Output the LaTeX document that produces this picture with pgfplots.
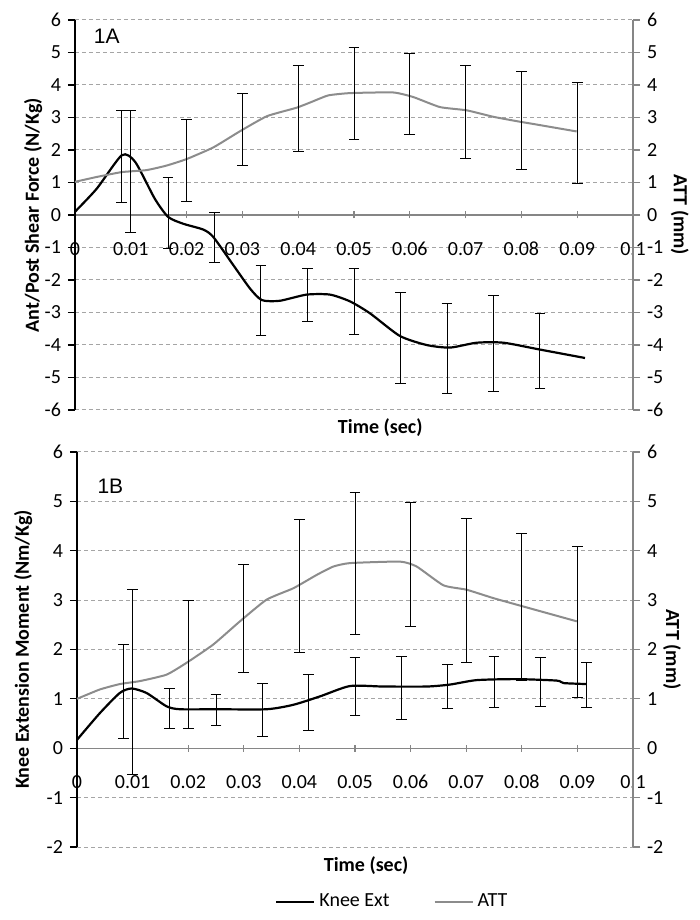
\documentclass[border=0pt]{standalone}
\usepackage{pgfplots}
\pgfplotsset{compat=1.18}
\usepackage{pgfplotstable}
\usepackage{fontspec}
\setmainfont{Carlito}
\newfontfamily\arialf{Liberation Sans}

\definecolor{attgray}{RGB}{140,140,140}
\definecolor{axisgray}{RGB}{134,134,134}
\definecolor{gridgray}{RGB}{165,165,165}

% ---- panel 1A ----
\pgfplotstableread{
x y
0 0.1
0.0039 0.81
0.0084 1.84
0.0108 1.63
0.0143 0.5
0.0167 -0.06
0.0194 -0.27
0.023 -0.45
0.0248 -0.68
0.0284 -1.55
0.0314 -2.27
0.0335 -2.62
0.0367 -2.64
0.0415 -2.45
0.0457 -2.45
0.0493 -2.66
0.0529 -3.03
0.0582 -3.72
0.063 -4.0
0.0672 -4.08
0.072 -3.93
0.0768 -3.93
0.0833 -4.14
0.0914 -4.4
}\shearline
\pgfplotstableread{
x y e
0.00833 1.795 1.425
0.01667 0.055 1.095
0.025 -0.69 0.78
0.03333 -2.625 1.075
0.04167 -2.46 0.81
0.05 -2.66 1.01
0.05833 -3.785 1.385
0.06667 -4.115 1.385
0.075 -3.945 1.475
0.08333 -4.18 1.16
}\shearbars
\pgfplotstableread{
x y
0 1.02
0.0039 1.17
0.0084 1.32
0.0128 1.38
0.0164 1.52
0.02 1.72
0.0248 2.08
0.0296 2.58
0.0344 3.04
0.0397 3.3
0.0427 3.5
0.0454 3.68
0.0493 3.75
0.057 3.77
0.0606 3.63
0.0654 3.32
0.0702 3.22
0.075 3.02
0.0797 2.87
0.0818 2.81
0.0899 2.57
}\attlineA
\pgfplotstableread{
x y e
0.01 1.34 1.88
0.02 1.67 1.27
0.03 2.63 1.10
0.04 3.27 1.33
0.05 3.735 1.405
0.06 3.72 1.24
0.07 3.175 1.425
0.08 2.905 1.495
0.09 2.535 1.555
}\attbarsA

% ---- panel 1B ----
\pgfplotstableread{
x y
0 0.17
0.0041 0.71
0.0077 1.12
0.0098 1.21
0.0125 1.12
0.0161 0.85
0.0185 0.79
0.0251 0.79
0.0341 0.79
0.0389 0.88
0.0437 1.05
0.0491 1.26
0.0551 1.25
0.0629 1.25
0.0671 1.29
0.0719 1.38
0.0791 1.40
0.0863 1.37
0.0875 1.32
0.0917 1.30
}\momline
\pgfplotstableread{
x y e
0.00833 1.15 0.96
0.01667 0.805 0.405
0.025 0.775 0.305
0.03333 0.775 0.545
0.04167 0.93 0.57
0.05 1.245 0.585
0.05833 1.22 0.64
0.06667 1.25 0.45
0.075 1.345 0.515
0.08333 1.34 0.49
0.09167 1.28 0.45
}\mombars
\pgfplotstableread{
x y
0 1.0
0.0041 1.19
0.0077 1.30
0.0113 1.36
0.0161 1.49
0.0197 1.73
0.0245 2.10
0.0293 2.57
0.0341 3.01
0.0389 3.24
0.0431 3.51
0.0461 3.68
0.0491 3.75
0.0581 3.78
0.0611 3.68
0.0659 3.30
0.0701 3.21
0.0749 3.04
0.0803 2.87
0.0899 2.57
}\attlineB
\pgfplotstableread{
x y e
0.01 1.34 1.87
0.02 1.70 1.29
0.03 2.635 1.095
0.04 3.28 1.35
0.05 3.745 1.435
0.06 3.725 1.255
0.07 3.195 1.465
0.08 2.86 1.49
0.09 2.555 1.535
}\attbarsB

\pgfplotsset{
  base/.style={
    scale only axis,
    xmin=0, xmax=0.1,
    font=\fontsize{10}{12}\selectfont,
    /pgf/number format/assume math mode=true,
    ytick distance=1,
    major tick length=3.5pt,
    ytick align=outside,
    every axis y label/.style={rotate=90, anchor=center, font=\fontsize{10}{12}\selectfont\bfseries},
    every axis x label/.style={anchor=center, font=\fontsize{10}{12}\selectfont\bfseries},
  },
  mainax/.style={
    base,
    axis y line*=left, axis x line*=middle,
    hide obscured x ticks=false,
    y axis line style={black, line width=0.6pt},
    x axis line style={axisgray, line width=0.6pt},
    ytick style={black, line width=0.6pt},
    xtick style={axisgray, line width=0.6pt, yshift=-1.75pt},
    xtick={0,0.01,0.02,0.03,0.04,0.05,0.06,0.07,0.08,0.09,0.1},
    xticklabels={0,0.01,0.02,0.03,0.04,0.05,0.06,0.07,0.08,0.09,0.1},
    xticklabel style={yshift=-10pt},
    ymajorgrids,
    grid style={gridgray, dash pattern=on 2pt off 1.5pt, line width=0.5pt},
  },
  rightax/.style={
    base,
    axis y line*=right, axis x line=none,
    y axis line style={axisgray, line width=0.6pt},
    ytick style={axisgray, line width=0.6pt},
    every axis y label/.style={rotate=-90, anchor=center, font=\fontsize{10}{12}\selectfont\bfseries},
  },
  bars/.style={draw=none, mark=none, forget plot,
    error bars/.cd, y dir=both, y explicit,
    error bar style={draw=black, line width=0.5pt},
    error mark options={draw=black, rotate=90, mark size=2.7pt, line width=0.5pt}},
}

\begin{document}
\begin{tikzpicture}
\path[use as bounding box] (0,0) rectangle (350pt,460pt);

% ===== 1A =====
\begin{axis}[mainax, at={(37.5pt,255pt)}, anchor=south west,
  width=279pt, height=195pt, ymin=-6, ymax=6,
  ylabel={Ant/Post Shear Force (N/Kg)},
  ylabel style={at={(axis description cs:-0.075,0.5)}},
  xlabel={Time (sec)},
  xlabel style={at={(axis description cs:0.547,-0.046)}}]
\addplot[black, line width=1.1pt, smooth, tension=0.4, forget plot] table[x=x,y=y] {\shearline};
\addplot[attgray, line width=1pt, smooth, tension=0.3, forget plot] table[x=x,y=y] {\attlineA};
\addplot[bars] table[x=x,y=y,y error=e] {\shearbars};
\addplot[bars] table[x=x,y=y,y error=e] {\attbarsA};
\node[font=\arialf\fontsize{10.5}{12}\selectfont] at (axis cs:0.0057,5.5) {1A};
\end{axis}
\begin{axis}[rightax, at={(37.5pt,255pt)}, anchor=south west,
  width=279pt, height=195pt, ymin=-6, ymax=6,
  ylabel={ATT (mm)},
  ylabel style={at={(axis description cs:1.084,0.5)}}]
\addplot[draw=none, forget plot] coordinates {(0,0)};
\end{axis}

% ===== 1B =====
\begin{axis}[mainax, at={(38.5pt,36.5pt)}, anchor=south west,
  width=278pt, height=197.5pt, ymin=-2, ymax=6,
  ylabel={Knee Extension Moment (Nm/Kg)},
  ylabel style={at={(axis description cs:-0.097,0.5)}},
  xlabel={Time (sec)},
  xlabel style={at={(axis description cs:0.52,-0.046)}},
  legend style={at={(axis description cs:0.345,-0.139)}, anchor=west,
    draw=none, fill=none, legend columns=2,
    font=\fontsize{10}{12}\selectfont,
    /tikz/every even column/.append style={column sep=20pt}},
  legend image code/.code={\draw[#1] (0pt,0pt) -- (19pt,0pt);}]
\addplot[black, line width=1.1pt, smooth, tension=0.4] table[x=x,y=y] {\momline};
\addlegendentry{Knee Ext}
\addplot[attgray, line width=1pt, smooth, tension=0.3] table[x=x,y=y] {\attlineB};
\addlegendentry{ATT}
\addplot[bars] table[x=x,y=y,y error=e] {\mombars};
\addplot[bars] table[x=x,y=y,y error=e] {\attbarsB};
\node[font=\arialf\fontsize{10.5}{12}\selectfont] at (axis cs:0.006,5.3) {1B};
\end{axis}
\begin{axis}[rightax, at={(38.5pt,36.5pt)}, anchor=south west,
  width=278pt, height=197.5pt, ymin=-2, ymax=6,
  ylabel={ATT (mm)},
  ylabel style={at={(axis description cs:1.07,0.5)}}]
\addplot[draw=none, forget plot] coordinates {(0,0)};
\end{axis}
\end{tikzpicture}
\end{document}
